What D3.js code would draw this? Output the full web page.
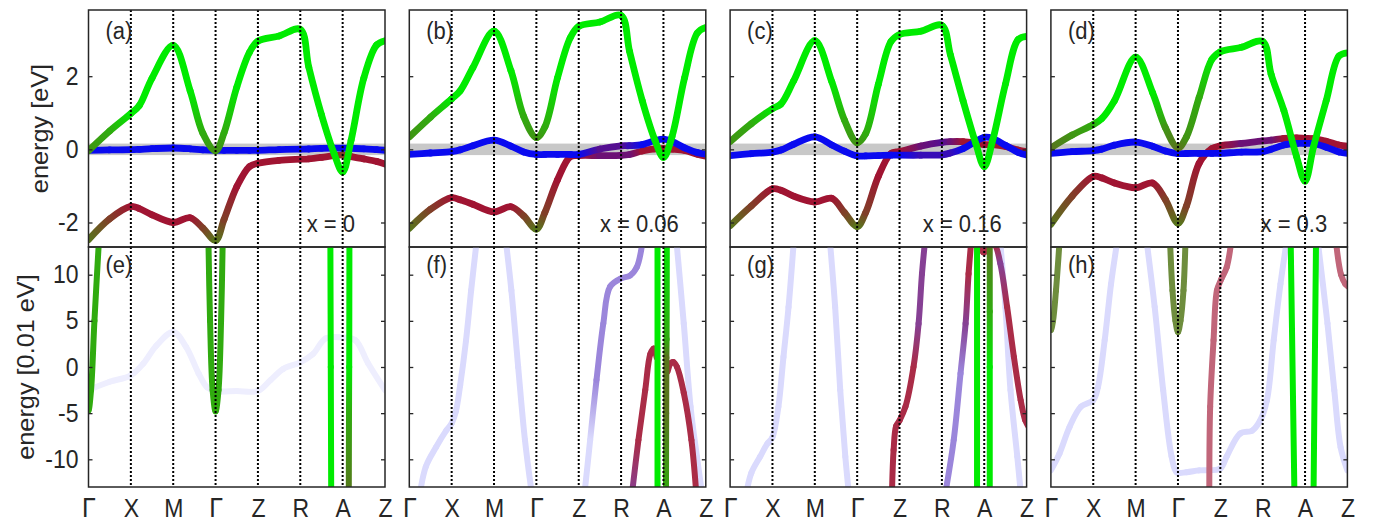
<!DOCTYPE html>
<html lang="en">
<head>
<meta charset="UTF-8">
<title>band structure</title>
<style>
  body { margin: 0; background: #fff; }
  svg text { font-family: "Liberation Sans", Arial, sans-serif; fill: #262626; }
</style>
</head>
<body>
<div id="root"></div>
<script src="https://cdn.jsdelivr.net/npm/d3@7"></script>
<script>
// ---- data ----------------------------------------------------------------
const kLabels = ["Γ", "X", "M", "Γ", "Z", "R", "A", "Z"]
const panelTags = [["(a)", "(b)", "(c)", "(d)"], ["(e)", "(f)", "(g)", "(h)"]]
const dopingLabels = ["x = 0", "x = 0.06", "x = 0.16", "x = 0.3"]
const dopingLabelK = [5.15, 4.5, 4.55, 4.95]
const topTicks = [-2, 0, 2]
const bottomTicks = [-10, -5, 0, 5, 10]

// k grid for the top row (eV)
const kTop = [0, 0.5, 1, 1.2, 1.5, 2, 2.4, 2.7, 3, 3.2, 3.5, 3.8, 4, 4.5, 5, 5.2, 5.5, 5.8, 6, 6.2, 6.5, 6.8, 7]

const greenTop = [
  [-0.04, 0.5, 0.98, 1.2, 1.95, 2.84, 1.6, 0.44, -0.04, 0.45, 1.7, 2.65, 2.96, 3.1, 3.28, 2.25, 0.95, -0.12, -0.62, 0.25, 1.95, 2.85, 2.97],
  [0.34, 0.88, 1.38, 1.6, 2.23, 3.23, 2.15, 0.9, 0.32, 0.61, 1.96, 3.05, 3.36, 3.48, 3.66, 2.68, 1.33, 0.25, -0.22, 0.34, 1.96, 3.18, 3.33],
  [0.21, 0.7, 1.11, 1.24, 1.87, 2.97, 1.85, 0.8, 0.18, 0.43, 1.78, 2.95, 3.14, 3.23, 3.39, 2.59, 1.33, 0.16, -0.47, 0.25, 1.78, 3.0, 3.09],
  [0.04, 0.39, 0.68, 0.84, 1.33, 2.52, 1.55, 0.6, 0.04, 0.34, 1.42, 2.46, 2.67, 2.79, 2.95, 2.05, 1.06, -0.2, -0.87, 0.07, 1.33, 2.55, 2.64]
]
const blueTop = [
  [-0.025, -0.016, -0.009, 0.0, 0.018, 0.037, 0.015, -0.015, -0.026, -0.026, -0.026, -0.026, -0.026, -0.007, 0.005, 0.01, 0.027, 0.032, 0.032, 0.03, 0.012, -0.01, -0.025],
  [-0.14, -0.1, -0.06, -0.015, 0.1, 0.25, 0.09, -0.07, -0.14, -0.14, -0.14, -0.14, -0.14, 0.01, 0.096, 0.1, 0.13, 0.24, 0.28, 0.22, 0.04, -0.09, -0.13],
  [-0.17, -0.12, -0.076, -0.02, 0.14, 0.34, 0.12, -0.05, -0.18, -0.18, -0.17, -0.16, -0.16, -0.16, -0.15, -0.1, 0.02, 0.22, 0.33, 0.3, 0.11, -0.08, -0.15],
  [-0.112, -0.063, -0.036, 0.005, 0.115, 0.2, 0.085, -0.045, -0.114, -0.114, -0.112, -0.111, -0.11, -0.074, -0.064, 0.0, 0.12, 0.16, 0.16, 0.16, 0.06, -0.07, -0.112]
]
const redTop = [
  [-2.47, -1.9, -1.56, -1.62, -1.79, -2.0, -1.87, -2.15, -2.49, -1.92, -1.02, -0.47, -0.38, -0.3, -0.27, -0.26, -0.22, -0.17, -0.15, -0.2, -0.26, -0.33, -0.4],
  [-2.16, -1.64, -1.32, -1.38, -1.5, -1.71, -1.57, -1.82, -2.18, -1.73, -0.83, -0.2, -0.17, -0.17, -0.165, -0.14, -0.045, 0.012, 0.02, 0.005, -0.03, -0.135, -0.19],
  [-2.09, -1.55, -1.08, -1.12, -1.28, -1.44, -1.34, -1.73, -2.11, -1.73, -0.74, -0.11, -0.06, 0.09, 0.19, 0.21, 0.21, 0.17, 0.13, 0.13, 0.08, -0.02, -0.06],
  [-2.05, -1.28, -0.74, -0.78, -0.92, -1.05, -0.92, -1.37, -2.02, -1.55, -0.38, 0.02, 0.095, 0.16, 0.23, 0.25, 0.3, 0.31, 0.3, 0.29, 0.22, 0.12, 0.09]
]
// orbital character along each top band, one letter per k point
const greenChar = ["hgGGGGGghgGGGGGGGGGGGGG", "hgGGGGGghgGGGGGGGGGGGGG", "hgGGGGGghgGGGGGGGGGGGGG", "ohgGGGGhohgGGGGGGGGGGGG"]
const blueChar = ["BBBBBBBBBBBBBBBBBBBBBBB", "BBBBBBBBBBBBBppvBBBBBBB", "BBBBBBBBBBBBBvvvBBBBBBB", "BBBBBBBBBBBBBBBBBBBBBBB"]
const redChar = ["orRRRRRrorRRRRRRRRrRRRR", "orRRRRRrorRRRqqqRRRRRRR", "orRRRRRrorRRRqpqRRRRRRR", "orRRRRRrorRRRqqqRRRRRRR"]

// bottom row: [ [k, E (0.01 eV)] points, character letters ]
const bandsE = [
  [[[0, -2.5], [0.5, -1.6], [1, -0.9], [1.3, 0.4], [1.6, 2.3], [2, 3.8], [2.3, 2.2], [2.6, -0.7], [2.8, -2.2], [3, -2.6], [3.5, -2.6], [4, -2.6], [4.3, -1.4], [4.6, -0.2], [5, 0.5], [5.3, 1.4], [5.6, 3.1], [6, 3.2], [6.3, 2.9], [6.6, 0.4], [7, -2.5]], "fffffffffffffffffffff"],
  [[[-0.25, 14], [-0.14, 5], [-0.06, -2.5], [0, -4.7], [0.06, -2.5], [0.14, 5], [0.25, 14]], "ggggggg"],
  [[[2.83, 14], [2.87, 5], [2.93, -2.5], [3, -4.8], [3.07, -2.5], [3.13, 5], [3.17, 14]], "ggggggg"],
  [[[5.71, 14], [5.72, 0], [5.73, -14]], "GGG"],
  [[[6.16, 14], [6.155, 0], [6.15, -5], [6.145, -14]], "GGgo"]
]
const bandsF = [
  [[[0.24, -14], [0.39, -10.8], [0.63, -8.7], [0.87, -6.9], [1, -6.1], [1.1, -4.8], [1.2, -2], [1.34, 2.9], [1.46, 8.3], [1.6, 14]], "llllllllll"],
  [[[2.27, 14], [2.41, 8.3], [2.57, 0], [2.73, -7.9], [2.9, -14]], "lllll"],
  [[[6.3, 14], [6.48, 4.7], [6.64, -4.3], [6.79, -9.7], [6.92, -14]], "lllll"],
  [[[4.13, -14], [4.27, -7.9], [4.42, -1.4], [4.58, 4.7], [4.74, 8.7], [5, 9.6], [5.21, 9.9], [5.37, 10.8], [5.52, 14]], "llmmmmmmm"],
  [[[5.25, -14], [5.41, -7.9], [5.57, -2.5], [5.69, 1.4], [5.77, 2.0], [5.84, 1.0]], "nkkkkk"],
  [[[6.1, -0.5], [6.17, 0.4], [6.23, 0.55], [6.32, 0], [6.48, -2.8], [6.66, -7.9], [6.78, -14]], "kkkkkkk"],
  [[[5.86, 14], [5.86, -14]], "GG"],
  [[[6.08, 14], [6.075, 3], [6.07, 1], [6.065, -5], [6.06, -14]], "Ggoog"]
]
const bandsG = [
  [[[0.37, -14], [0.5, -11.5], [0.71, -9.7], [0.88, -8.3], [1, -7.6], [1.14, -4.3], [1.26, 1.1], [1.38, 6.5], [1.51, 14]], "lllllllll"],
  [[[2.35, 14], [2.48, 6.5], [2.6, -2.5], [2.72, -9.7], [2.81, -14]], "lllll"],
  [[[6.37, 14], [6.5, 6.5], [6.62, -2.5], [6.78, -9.7], [6.87, -14]], "lllll"],
  [[[5.07, -14], [5.28, -7.9], [5.44, -0.7], [5.56, 4.7], [5.63, 10.1], [5.7, 14]], "mmmnkk"],
  [[[3.82, -14], [3.86, -9], [3.92, -6.4], [4.0, -5.8], [4.14, -4.3], [4.33, 0], [4.45, 4.7], [4.53, 10.1], [4.61, 14]], "kkkkkknnn"],
  [[[5.7, 14], [5.85, 13.3], [5.99, 12.4], [6.15, 13.3], [6.25, 13.2], [6.38, 11.2], [6.54, 6.5], [6.7, 1.1], [6.86, -3.6], [6.97, -5.8], [7.05, -6.5]], "kkkkknkkkkk"],
  [[[5.83, 14], [5.83, -14]], "GG"],
  [[[6.13, 14], [6.13, 6], [6.13, 0], [6.13, -14]], "ogGG"]
]
const bandsH = [
  [[[0, -11.2], [0.2, -9.4], [0.44, -6.5], [0.71, -4.3], [1, -3.6], [1.11, -2.2], [1.27, 2.9], [1.42, 9.0], [1.58, 14]], "lllllllll"],
  [[[2.25, 14], [2.45, 6.5], [2.65, -2.5], [2.85, -9.7], [2.97, -11.4], [3.2, -11.4], [3.5, -11.2], [4, -11.0], [4.15, -9.7], [4.47, -7.2], [4.75, -6.9], [4.94, -5.8], [5.1, -3.6], [5.26, 2.9], [5.42, 9.0], [5.58, 14]], "llllllllllllllll"],
  [[[6.29, 14], [6.53, 4.7], [6.69, -2.5], [6.84, -8.7], [7, -11.2]], "lllll"],
  [[[-0.21, 14], [-0.12, 8.3], [-0.05, 5], [0, 4], [0.05, 5], [0.12, 8.3], [0.21, 14]], "yyyyyyy"],
  [[[2.81, 14], [2.87, 8.3], [2.94, 5], [3, 3.8], [3.06, 5], [3.13, 8.3], [3.18, 14]], "yyyyyyy"],
  [[[3.74, -14], [3.76, -4.3], [3.84, 2.9], [3.92, 8.3], [4.02, 9.5], [4.15, 10.8], [4.27, 14]], "KKKKKKK"],
  [[[6.72, 14], [6.85, 10], [6.95, 9], [7.05, 8.6]], "KKKK"],
  [[[5.66, 14], [5.75, -14]], "GG"],
  [[[6.26, 14], [6.2, -14]], "GG"]
]
const bandsBottom = [bandsE, bandsF, bandsG, bandsH]

// ---- palette: green / blue / red orbital colours, plus white for faded weight
const basis = [[0, 235, 0], [10, 10, 240], [160, 20, 50], [255, 255, 255]]
const character = {
  G: [1, 0, 0, 0], g: [0.7, 0, 0.3, 0], h: [0.6, 0, 0.4, 0], o: [0.45, 0, 0.55, 0],
  B: [0, 1, 0, 0], v: [0, 0.7, 0.3, 0], p: [0, 0.5, 0.5, 0], q: [0, 0.35, 0.65, 0],
  R: [0, 0, 1, 0], r: [0.2, 0, 0.8, 0],
  k: [0, 0, 0.9, 0.1], K: [0, 0, 0.65, 0.35], n: [0, 0.3, 0.5, 0.2], m: [0, 0.35, 0.15, 0.5],
  l: [0, 0.15, 0, 0.85], f: [0, 0.07, 0, 0.93], y: [0.4, 0, 0.45, 0.15]
}
function mixColor(code) {
  const w = character[code]
  const c = [0, 1, 2].map(j => Math.round(w.reduce((s, wi, i) => s + wi * basis[i][j], 0)))
  return d3.rgb(c[0], c[1], c[2]).formatHex()
}

// ---- layout ----------------------------------------------------------------
const W = 1376, H = 523
const colLeft = 88.5, colStep = 320.8, panelW = 296.5
const rows = [
  {top: 10, bottom: 247, domain: [-2.67, 3.81], ticks: topTicks, title: "energy [eV]", titleX: 48},
  {top: 247, bottom: 487, domain: [-13, 13], ticks: bottomTicks, title: "energy [0.01 eV]", titleX: 34}
]
const ink = "#262626"
const stretch = 1.1

const svg = d3.select("#root").append("svg")
  .attr("width", W)
  .attr("height", H)
  .style("background", "#fff")
const defs = svg.append("defs")
let gradCount = 0

// draw a smooth band as one piece per data interval so the colour can follow the character
function drawBand(g, pts, chars, x, y, width) {
  const xy = pts.map(p => [x(p[0]), y(p[1])])
  const segs = []
  let cur
  const ctx = {
    moveTo(a, b) { cur = [a, b] },
    lineTo(a, b) { segs.push(`M${cur[0]},${cur[1]}L${a},${b}`); cur = [a, b] },
    bezierCurveTo(a, b, c, d, e, f) { segs.push(`M${cur[0]},${cur[1]}C${a},${b},${c},${d},${e},${f}`); cur = [e, f] },
    closePath() {}
  }
  d3.line().curve(d3.curveCatmullRom).context(ctx)(xy)

  segs.forEach((d, i) => {
    const c0 = mixColor(chars[i]), c1 = mixColor(chars[i + 1])
    let stroke = c0
    if (c0 !== c1) {
      const id = "gr" + (gradCount++)
      const lg = defs.append("linearGradient")
        .attr("id", id)
        .attr("gradientUnits", "userSpaceOnUse")
        .attr("x1", xy[i][0]).attr("y1", xy[i][1])
        .attr("x2", xy[i + 1][0]).attr("y2", xy[i + 1][1])
      lg.append("stop").attr("offset", 0).attr("stop-color", c0)
      lg.append("stop").attr("offset", 1).attr("stop-color", c1)
      stroke = `url(#${id})`
    }
    g.append("path")
      .attr("d", d)
      .attr("fill", "none")
      .attr("stroke", stroke)
      .attr("stroke-width", width)
      .attr("stroke-linecap", "round")
  })
}

for (let c = 0; c < 4; c++) {
  const left = colLeft + c * colStep
  const x = d3.scaleLinear().domain([0, 7]).range([left, left + panelW])

  rows.forEach((row, r) => {
    const y = d3.scaleLinear().domain(row.domain).range([row.bottom, row.top])
    const clipId = `clip${r}${c}`
    defs.append("clipPath").attr("id", clipId)
      .append("rect")
      .attr("x", left).attr("y", row.top)
      .attr("width", panelW).attr("height", row.bottom - row.top)

    const g = svg.append("g").attr("clip-path", `url(#${clipId})`)

    if (r === 0) {
      // window shown in the lower row
      g.append("rect")
        .attr("x", left).attr("width", panelW)
        .attr("y", y(0.13)).attr("height", y(-0.13) - y(0.13))
        .attr("fill", "#c8c8c8")
        .attr("stroke", "#c8c8c8")
        .attr("stroke-width", 2)
      drawBand(g, kTop.map((k, i) => [k, redTop[c][i]]), redChar[c], x, y, 6.8)
      drawBand(g, kTop.map((k, i) => [k, blueTop[c][i]]), blueChar[c], x, y, 6.8)
      drawBand(g, kTop.map((k, i) => [k, greenTop[c][i]]), greenChar[c], x, y, 6.8)
    } else {
      bandsBottom[c].forEach(([pts, chars]) => drawBand(g, pts, chars, x, y, 6))
    }

    // dotted lines at the high-symmetry points
    svg.append("g").selectAll("line")
      .data(d3.range(1, 7))
      .join("line")
      .attr("x1", d => x(d)).attr("x2", d => x(d))
      .attr("y1", row.top).attr("y2", row.bottom)
      .attr("stroke", "#000")
      .attr("stroke-width", 2)
      .attr("stroke-dasharray", "2,2")

    // y axes, ticks pointing inwards
    const yAxis = svg.append("g")
      .attr("transform", `translate(${left},0)`)
      .call(d3.axisLeft(y).tickValues(row.ticks).tickSize(-4).tickPadding(10)
        .tickFormat(d => c === 0 ? String(d) : ""))
    yAxis.select(".domain").remove()
    yAxis.selectAll("line").attr("stroke", ink).attr("stroke-width", 1.3)
    yAxis.selectAll("text")
      .attr("font-size", 23)
      .attr("font-family", "Liberation Sans, Arial, sans-serif")
      .attr("fill", ink)
      .attr("transform", `scale(1,${stretch})`)

    const yAxisR = svg.append("g")
      .attr("transform", `translate(${left + panelW},0)`)
      .call(d3.axisRight(y).tickValues(row.ticks).tickSize(-4).tickFormat(""))
    yAxisR.select(".domain").remove()
    yAxisR.selectAll("line").attr("stroke", ink).attr("stroke-width", 1.3)

    // frame
    svg.append("rect")
      .attr("x", left).attr("y", row.top)
      .attr("width", panelW).attr("height", row.bottom - row.top)
      .attr("fill", "none")
      .attr("stroke", ink)
      .attr("stroke-width", 1.5)

    // panel tag
    svg.append("text")
      .attr("transform", `translate(${left + 17},${row.top + (r === 0 ? 29 : 26)}) scale(1,${stretch})`)
      .attr("font-size", 22)
      .text(panelTags[r][c])

    if (r === 0) {
      svg.append("text")
        .attr("transform", `translate(${x(dopingLabelK[c])},${y(-2.25)}) scale(1,${stretch})`)
        .attr("font-size", 22)
        .text(dopingLabels[c])
    }

    if (c === 0) {
      svg.append("text")
        .attr("transform", `translate(${row.titleX},${(row.top + row.bottom) / 2}) rotate(-90) scale(${stretch},1)`)
        .attr("text-anchor", "middle")
        .attr("font-size", 23)
        .text(row.title)
    }
  })

  // k-path labels
  const xAxis = svg.append("g")
    .attr("transform", `translate(0,${rows[1].bottom})`)
    .call(d3.axisBottom(x).tickValues(d3.range(8)).tickSize(0).tickFormat(i => kLabels[i]))
  xAxis.select(".domain").remove()
  xAxis.selectAll("text")
    .attr("dy", null)
    .attr("y", 27.5)
    .attr("font-size", d => kLabels[d] === "Γ" ? 25 : 23)
    .attr("fill", ink)
    .attr("font-family", d => kLabels[d] === "Γ" ? "Liberation Serif, serif" : "Liberation Sans, Arial, sans-serif")
    .attr("transform", `scale(1,${stretch})`)
}
</script>
</body>
</html>
